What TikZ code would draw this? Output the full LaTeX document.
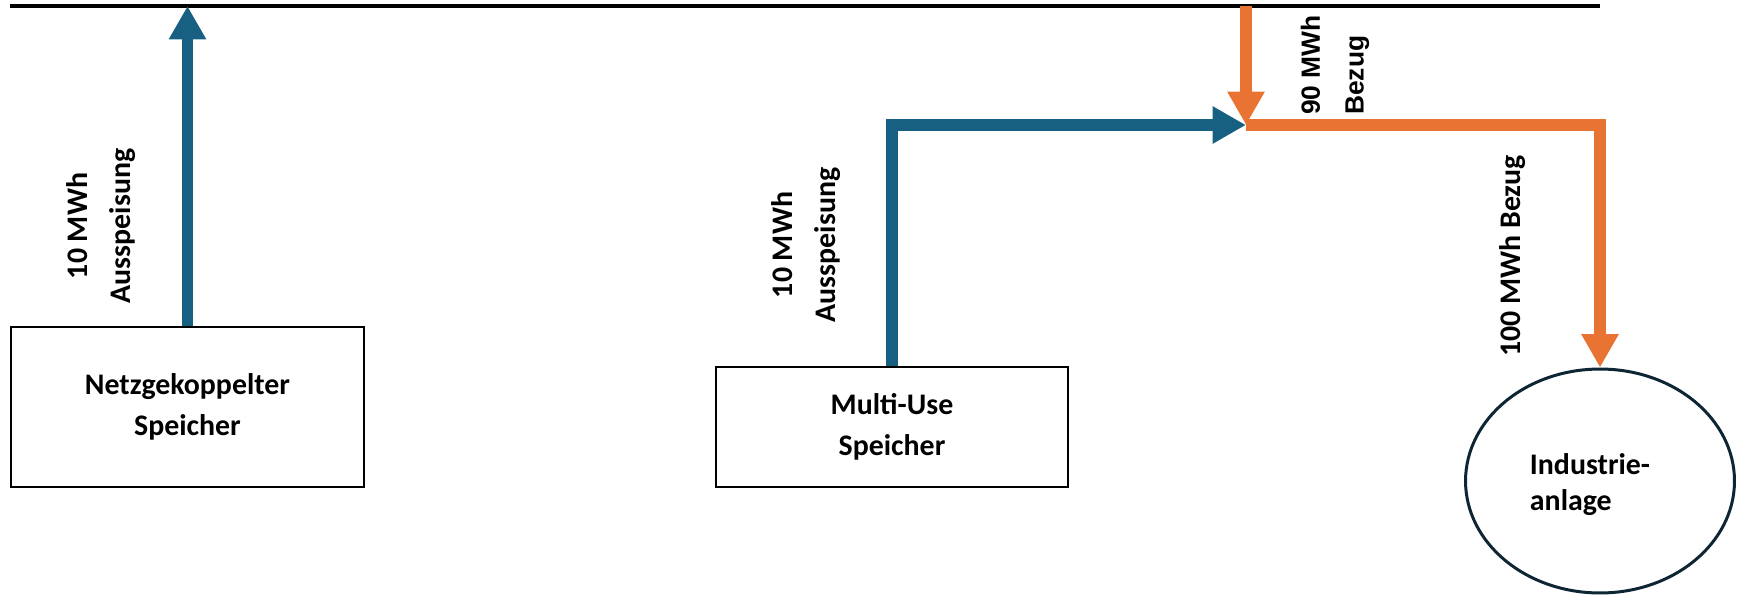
\documentclass[tikz,border=0pt]{standalone}
\usepackage{fontspec}
\setmainfont{Carlito}
\newfontfamily\arialfont{Liberation Sans}
\usetikzlibrary{arrows.meta,shapes.geometric,positioning}
\definecolor{flowblue}{RGB}{24,96,130}
\definecolor{floworange}{RGB}{233,115,51}
\definecolor{inkdark}{RGB}{14,38,52}

\begin{document}
\begin{tikzpicture}[x=0.02cm,y=-0.02cm,
    store/.style={draw=black,line width=1.3pt,align=center,font=\bfseries\fontsize{17}{23}\selectfont},
    plant/.style={ellipse,draw=inkdark,line width=1.7pt,minimum width=5.38cm,minimum height=4.48cm},
    planttext/.style={inner sep=0pt,align=left,font=\bfseries\fontsize{17}{20.5}\selectfont},
    flowlabel/.style={rotate=90,inner sep=0pt,align=center,font=\bfseries\fontsize{17}{24.4}\selectfont},
    blueflow/.style={draw=flowblue,line width=6.8pt,-{Triangle[length=19pt,width=20pt]}},
    orangeflow/.style={draw=floworange,line width=6.8pt,-{Triangle[length=19pt,width=20pt]}}]
        \useasboundingbox (0,0) rectangle (1737,595);
        \coordinate (gridL) at (10,6); \coordinate (gridR) at (1600,6); \coordinate (junc) at (1246,125);
        \draw[line width=1.8pt] (gridL) -- (gridR);
        \node[store,minimum width=7.06cm,minimum height=3.2cm] (netz) at (187.5,407) {Netzgekoppelter\\Speicher};
        \node[store,minimum width=7.04cm,minimum height=2.4cm] (multi) at (892,427) {Multi-Use\\Speicher};
        \node[plant] (ind) at (1600,481) {}; \node[planttext] (indtext) at (1590,485) {Industrie-\\anlage};
        \draw[blueflow] (netz.north) -- (netz.north |- gridL); \draw[blueflow] (multi.north) |- (junc);
        \draw[orangeflow] (junc |- gridL) -- (junc); \draw[orangeflow] (junc) -| (ind.north);
        \node[flowlabel] (outA) at (101,226) {10 MWh\\Ausspeisung};
        \node[flowlabel] (outB) at (806,245) {10 MWh\\Ausspeisung};
        \node[flowlabel,align=left,font=\arialfont\bfseries\fontsize{15}{25}\selectfont] (inA) at (1335,65) {90 MWh\\Bezug};
        \node[flowlabel] (inB) at (1513,256) {100 MWh Bezug};
    \end{tikzpicture}
\end{document}
